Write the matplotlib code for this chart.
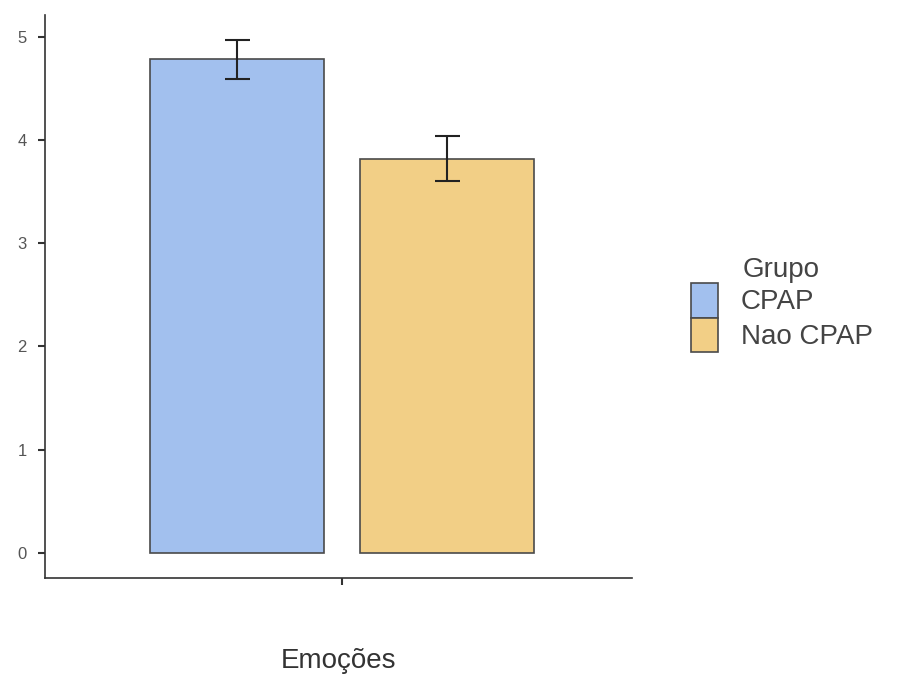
import matplotlib.pyplot as plt
from matplotlib.patches import Patch

# data
grupos = ['CPAP', 'Nao CPAP']
medias = [4.78, 3.82]
erros = [0.19, 0.215]
cores = ['#A2C0EE', '#F2CF86']
categoria = 'Emoções'

plt.rcParams['font.family'] = ['Liberation Sans', 'DejaVu Sans']

fig = plt.figure(figsize=(9, 6.79), dpi=100)
ax = fig.add_axes([0.05, 0.149, 0.652, 0.829])

largura = 0.4
pos = [-0.241, 0.241]
for i in range(len(grupos)):
    ax.bar(pos[i], medias[i], width=largura, color=cores[i], edgecolor='#4a4a4a', linewidth=1.2)
    ax.errorbar(pos[i], medias[i], yerr=erros[i], fmt='none', ecolor='#222222',
                elinewidth=1.5, capsize=9, capthick=1.5)

ax.set_xlim(-0.683, 0.667)
ax.set_ylim(-0.24, 5.21)
ax.set_yticks([0, 1, 2, 3, 4, 5])
ax.set_xticks([0])
ax.set_xticklabels([''])
ax.spines['top'].set_visible(False)
ax.spines['right'].set_visible(False)
for s in ['left', 'bottom']:
    ax.spines[s].set_color('#333333')
    ax.spines[s].set_linewidth(1.2)
ax.tick_params(axis='y', length=5, width=1.5, color='#333333', labelsize=12, labelcolor='#555555', pad=8)
ax.tick_params(axis='x', length=5, width=1.5, color='#333333')
ax.set_xlabel(categoria, fontsize=20, color='#333333', labelpad=42)

handles = [Patch(facecolor=cores[i], edgecolor='#4a4a4a', linewidth=1.2) for i in range(len(grupos))]
leg = fig.legend(handles, grupos, title='Grupo', loc='upper left', bbox_to_anchor=(0.755, 0.638),
                 frameon=False, fontsize=20, title_fontsize=20, handlelength=1.0, handleheight=1.55,
                 labelspacing=0.0, handletextpad=0.8, borderaxespad=0)
leg.get_title().set_color('#444444')
for t in leg.get_texts():
    t.set_color('#444444')

fig.savefig('out.png', dpi=100)
